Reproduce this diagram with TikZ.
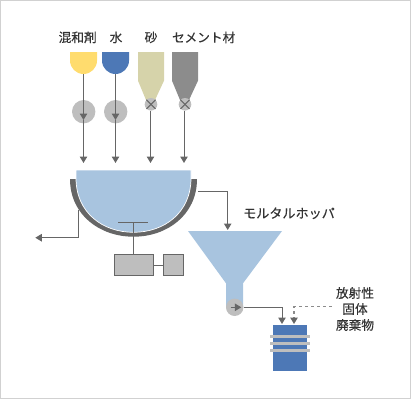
\documentclass[tikz,border=0pt]{standalone}
\usepackage{fontspec}
\setmainfont[FakeBold=0.25]{Noto Sans CJK JP}
\usetikzlibrary{arrows.meta}
\definecolor{pipegray}{HTML}{666666}
\definecolor{dotgray}{HTML}{8C8C8C}
\definecolor{bodygray}{HTML}{BEBEBE}
\definecolor{mixblue}{HTML}{A8C4DF}
\definecolor{tankblue}{HTML}{4D78B6}
\definecolor{tankyellow}{HTML}{FFDC6E}
\definecolor{tanksand}{HTML}{D6D3AA}
\definecolor{tankgray}{HTML}{8C8C8C}
\tikzset{
  flow/.style={draw=pipegray, line width=1pt, -{Triangle[length=6.5pt,width=7.5pt,color=pipegray]}},
  pipe/.style={draw=pipegray, line width=1pt},
  gauge/.style={circle, fill=bodygray, inner sep=0pt, minimum size=#1},
  unitbox/.style={draw=pipegray, line width=1pt, fill=bodygray, minimum height=20.4pt, inner sep=0pt},
  label/.style={font=\fontsize{12.7}{16}\selectfont, text=black!80, inner sep=0pt}
}
\begin{document}
\begin{tikzpicture}[x=1pt, y=1pt]
  \useasboundingbox (0,0) rectangle (411,400);
  \draw[black!18, line width=1.2pt] (0.6,1.6) rectangle (410.6,399.6);
  % Labels above the tanks
  \node[label] (mixlabel) at (77.7,362.6) {混和剤};
  \node[label] (waterlabel) at (116,362.6) {水};
  \node[label] (sandlabel) at (151,362.6) {砂};
  \node[label] (cementlabel) at (203.7,362.6) {セメント材};
  % Tanks
  \fill[tankyellow] (70,348) -- (97,348) -- (97,339.5) arc[start angle=0, end angle=-180, radius=13.5] -- cycle;
  \fill[tankblue] (102,348) -- (129,348) -- (129,339.5) arc[start angle=0, end angle=-180, radius=13.5] -- cycle;
  \fill[tanksand] (138,348) -- (164,348) -- (164,319.3) -- (155,300) -- (146,300) -- (138,319.3) -- cycle;
  \fill[tankgray] (172,348) -- (198,348) -- (198,319.3) -- (189,300) -- (180,300) -- (172,319.3) -- cycle;
  \coordinate (tankA) at (83.5,326);
  \coordinate (tankB) at (115.5,326);
  % Valves under the tanks
  \node[gauge=23.4pt] (pumpA) at (83.7,288.3) {};
  \node[gauge=23.4pt] (pumpB) at (115.7,288.3) {};
  \node[gauge=12.6pt] (valveC) at (151,295.7) {};
  \node[gauge=12.6pt] (valveD) at (185,295.7) {};
  \foreach \v in {valveC, valveD} {
    \draw[pipe] (\v.north west) -- (\v.south east);
    \draw[pipe] (\v.north east) -- (\v.south west);
  }
  % Feed lines into the mixer
  \coordinate (midA) at (83.5,280);
  \coordinate (midB) at (115.5,280);
  \coordinate (inA) at (83.5,237);
  \coordinate (inB) at (115.5,237);
  \coordinate (inC) at (150.5,237);
  \coordinate (inD) at (184,237);
  \draw[flow] (tankA) -- (midA);
  \draw[flow] (tankB) -- (midB);
  \draw[flow] (midA) -- (inA);
  \draw[flow] (midB) -- (inB);
  \draw[flow] (valveC.south -| inC) -- (inC);
  \draw[flow] (valveD.south -| inD) -- (inD);
  % Drain, under the mixer jacket
  \coordinate (drainA) at (78.7,190);
  \coordinate (drainB) at (78.7,162.3);
  \coordinate (drainC) at (35.3,162.3);
  \draw[flow] (drainA) -- (drainB) -- (drainC);
  % Mixer
  \fill[pipegray] (70,221) .. controls (70,185) and (100,163.3) .. (133.5,163.3)
    .. controls (167,163.3) and (197,185) .. (197,221) -- cycle;
  \fill[mixblue, draw=white, line width=0.7pt] (76,230) -- (76,222) .. controls (76,187) and (103,167.7) .. (133.5,167.7)
    .. controls (164,167.7) and (191,187) .. (191,222) -- (191,230) -- cycle;
  % Agitator and drive
  \node[unitbox, minimum width=39.4pt] (motor) at (134,135) {};
  \node[unitbox, minimum width=20.4pt] (gear) at (173.5,135) {};
  \coordinate (shafttop) at (133.4,177.7);
  \coordinate (bladeL) at (118,177.7);
  \coordinate (bladeR) at (148,177.7);
  \draw[pipe] (bladeL) -- (bladeR);
  \draw[pipe] (shafttop) -- (shafttop |- motor.north);
  \draw[pipe] (motor) -- (gear);
  % Mortar hopper
  \coordinate (outA) at (198,208.7);
  \coordinate (outB) at (227.7,208.7);
  \coordinate (outC) at (227.7,170);
  \draw[flow] (outA) -- (outB) -- (outC);
  \node[label, font=\fontsize{13.1}{16}\selectfont] (hopperlabel) at (289,186.7) {モルタルホッパ};
  \fill[mixblue] (188,169) -- (282,169) -- (243,116.7) -- (243,92.7) -- (226,92.7) -- (226,116.7) -- cycle;
  \node[gauge=17.4pt] (screw) at (234.7,92.7) {};
  \coordinate (screwL) at (230.7,92.7);
  \coordinate (screwR) at (241.3,92.7);
  \draw[flow] (screwL) -- (screwR);
  % Waste drum
  \fill[tankblue] (273,75) rectangle (307,29.3);
  \foreach \y in {63.7,56.7,49.7} {
    \fill[bodygray] (270,\y-1.5) rectangle (310,\y+1.5);
  }
  \coordinate (drumA) at (282,76);
  \coordinate (drumB) at (294,76);
  \coordinate (bendA) at (282,92.7);
  \coordinate (bendB) at (294,93.3);
  \coordinate (wasteA) at (331.7,93.3);
  \draw[flow] (screw.east) -- (bendA) -- (drumA);
  \draw[flow, draw=dotgray, line width=1.2pt, dash pattern=on 3pt off 3pt] (wasteA) -- (bendB) -- (drumB);
  \node[label, align=center] (wastelabel) at (355,91) {放射性\\固体\\廃棄物};
\end{tikzpicture}
\end{document}
